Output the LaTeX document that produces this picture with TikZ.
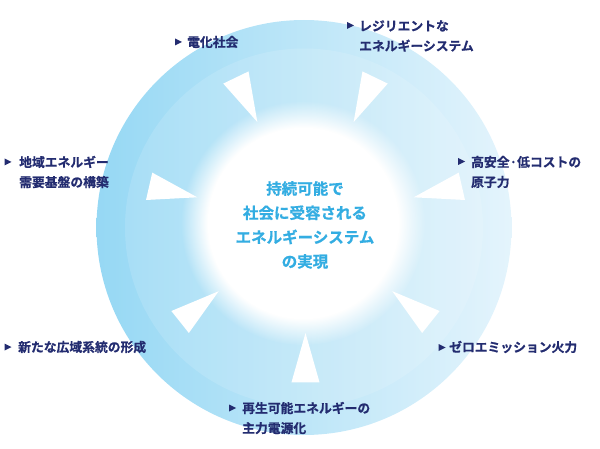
\documentclass[tikz,border=0pt]{standalone}
\usepackage{fontspec}
\newfontfamily\jp{Noto Sans CJK JP}[BoldFont={* Bold}, BoldFeatures={FakeBold=0.7}]
\usetikzlibrary{fadings}
\definecolor{navy}{HTML}{232C70}
\definecolor{ctext}{HTML}{33ADE2}
\definecolor{discL}{HTML}{96D8F4}
\definecolor{discR}{HTML}{E4F4FC}
\definecolor{fopaque}{gray}{1}
\definecolor{fmid}{gray}{0.5}
\definecolor{fclear}{gray}{0}
\pgfdeclareradialshading{glowshade}{\pgfpointorigin}{color(0bp)=(fopaque); color(19.5bp)=(fopaque); color(22.2bp)=(fmid); color(25bp)=(fclear); color(50bp)=(fclear)}
\pgfdeclarefading{glowfade}{\pgfuseshading{glowshade}}
\tikzset{
  lab/.style={font=\jp\bfseries\fontsize{12.8}{20}\selectfont, text=navy, inner sep=0pt, anchor=west, align=left},
  ctr/.style={font=\jp\bfseries\fontsize{15.5}{24.3}\selectfont, text=ctext, inner sep=0pt, align=center},
  bullet/.style={fill=navy},
  wedge/.style={fill=white},
}
\begin{document}
\begin{tikzpicture}[x=1pt,y=-1pt]
\useasboundingbox (0,0) rectangle (600,449);
% disc
\shade[left color=discL, right color=discR] (304,227.5) circle (207.5pt);
\fill[white, opacity=0.13] (304,227.5) circle (179pt);
\fill[white, path fading=glowfade] (303,223) circle (122pt);
% wedges
\coordinate (tc) at (305.5,222);
\foreach \a in {-90,-38.571,12.857,64.286,115.714,167.143,218.571}{
  \fill[wedge] ([shift={(\a:111pt)}]tc) -- ([shift={(\a-5:161pt)}]tc) -- ([shift={(\a+5:161pt)}]tc) -- cycle;
}
% centre text
\node[ctr] (core) at (305,225) {持続可能で\\社会に受容される\\エネルギーシステム\\の実現};
% labels
\node[lab] (l1) at (187,42) {電化社会};
\node[lab] (l2) at (359,36) {レジリエントな\\エネルギーシステム};
\node[lab] (l3) at (19,172) {地域エネルギー\\需要基盤の構築};
\node[lab] (l4) at (471,172) {高安全·低コストの\\原子力};
\node[lab] (l5) at (18,347) {新たな広域系統の形成};
\node[lab] (l6) at (449,347) {ゼロエミッション火力};
\node[lab] (l7) at (242,418) {再生可能エネルギーの\\主力電源化};
% markers
\foreach \x/\y in {175/42, 347/25.5, 4.5/162, 458/161.5, 4.5/347, 438.5/347.5, 229/408}{
  \fill[bullet] (\x,\y-3.5) -- (\x,\y+3.5) -- (\x+7,\y) -- cycle;
}
\end{tikzpicture}
\end{document}
